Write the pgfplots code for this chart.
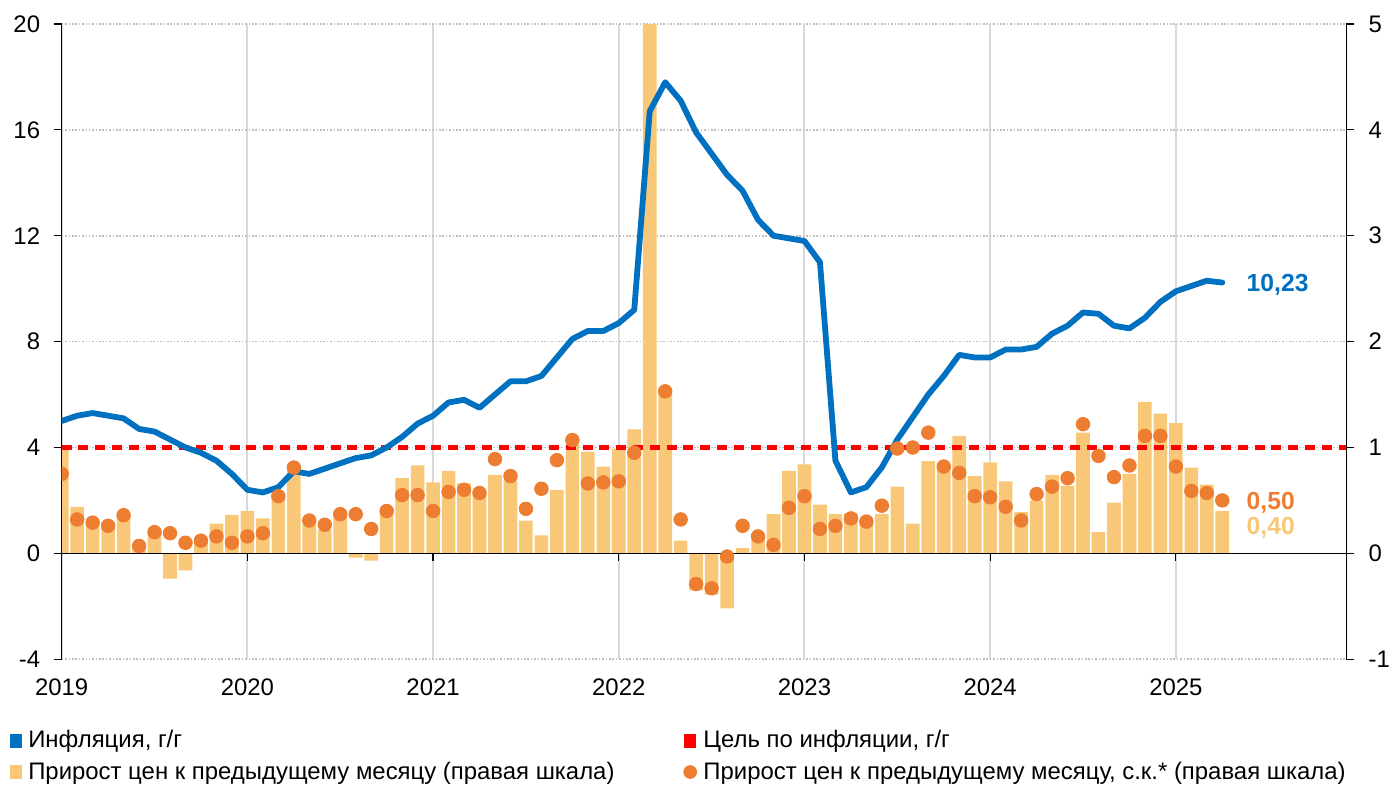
\documentclass[border=0pt]{standalone}
\usepackage{fontspec}
\setmainfont{Liberation Sans}
\usepackage{pgfplots}
\pgfplotsset{compat=1.18}
\usepackage{pgfplotstable}

\definecolor{cblue}{HTML}{0070C0}
\definecolor{cred}{HTML}{FF0000}
\definecolor{cbar}{HTML}{F8C878}
\definecolor{cdot}{HTML}{ED7D31}
\definecolor{cgrid}{HTML}{D9D9D9}
\definecolor{cdotgrid}{HTML}{BFBFBF}

\pgfplotstableread{
m yoy mom sa
0 5.0 1.01 0.75
1 5.2 0.44 0.32
2 5.3 0.32 0.29
3 5.2 0.29 0.26
4 5.1 0.34 0.36
5 4.7 0.04 0.07
6 4.6 0.20 0.20
7 4.3 -0.24 0.19
8 4.0 -0.16 0.10
9 3.8 0.13 0.12
10 3.5 0.28 0.16
11 3.0 0.36 0.10
12 2.4 0.40 0.16
13 2.3 0.33 0.19
14 2.5 0.55 0.54
15 3.1 0.83 0.81
16 3.0 0.27 0.31
17 3.2 0.22 0.27
18 3.4 0.35 0.37
19 3.6 -0.04 0.37
20 3.7 -0.07 0.23
21 4.0 0.43 0.40
22 4.4 0.71 0.55
23 4.9 0.83 0.55
24 5.2 0.67 0.40
25 5.7 0.78 0.58
26 5.8 0.66 0.60
27 5.5 0.58 0.57
28 6.0 0.74 0.89
29 6.5 0.69 0.73
30 6.5 0.31 0.42
31 6.7 0.17 0.61
32 7.4 0.60 0.88
33 8.1 1.03 1.07
34 8.4 0.96 0.66
35 8.4 0.82 0.67
36 8.7 0.99 0.68
37 9.2 1.17 0.95
38 16.7 7.61 nan
39 17.8 1.56 1.53
40 17.1 0.12 0.32
41 15.9 -0.35 -0.29
42 15.1 -0.39 -0.33
43 14.3 -0.52 -0.03
44 13.7 0.05 0.26
45 12.6 0.18 0.16
46 12.0 0.37 0.08
47 11.9 0.78 0.43
48 11.8 0.84 0.54
49 11.0 0.46 0.23
50 3.5 0.37 0.26
51 2.3 0.38 0.33
52 2.5 0.31 0.30
53 3.25 0.37 0.45
54 4.3 0.63 0.99
55 5.15 0.28 1.00
56 6.0 0.87 1.14
57 6.7 0.83 0.82
58 7.5 1.11 0.76
59 7.4 0.73 0.54
60 7.4 0.86 0.53
61 7.7 0.68 0.44
62 7.7 0.39 0.31
63 7.8 0.50 0.56
64 8.3 0.74 0.63
65 8.6 0.64 0.71
66 9.1 1.14 1.22
67 9.05 0.20 0.92
68 8.6 0.48 0.72
69 8.5 0.75 0.83
70 8.9 1.43 1.11
71 9.5 1.32 1.11
72 9.9 1.23 0.82
73 10.1 0.81 0.59
74 10.3 0.65 0.57
75 10.23 0.40 0.50
}\data

\pgfplotsset{
  base/.style={
    at={(0,0)}, anchor=south west, scale only axis,
    width=642.2bp, height=317.6bp,
    xmin=0, xmax=83,
    font=\fontsize{12}{14.4}\selectfont,
    tick label style={font=\fontsize{12}{14.4}\selectfont},
    /pgf/number format/assume math mode=true,
  }
}

\begin{document}
\begin{tikzpicture}
\useasboundingbox (-30.85bp,-62.9bp) rectangle (669.15bp,329.6bp);

% Axis 1: bars on right scale, grids
\begin{axis}[base,
  ymin=-1, ymax=5,
  axis y line*=right, axis x line*=bottom,
  x axis line style={draw=none},
  xtick={0,12,24,36,48,60,72}, xticklabels={},
  xtick style={draw=none},
  xmajorgrids, x grid style={cgrid, line width=1bp},
  ytick={-1,0,1,2,3,4,5}, yticklabels={-1,0,1,2,3,4,5},
  ymajorgrids, y grid style={cdotgrid, line width=0.8bp, dash pattern=on 0.8bp off 0.9bp},
  y axis line style={black, line width=0.6bp},
  ytick style={black, line width=0.6bp},
  tick align=outside, major tick length=3.8bp,
  yticklabel style={anchor=west, xshift=4bp},
]
\addplot[ybar, bar width=0.88, fill=cbar, draw=none, forget plot] table[x=m, y=mom]{\data};
\end{axis}

% Axis 2: left scale, line and target
\begin{axis}[base,
  ymin=-4, ymax=20,
  axis y line*=left, axis x line*=bottom,
  x axis line style={draw=none},
  xtick={0,12,24,36,48,60,72}, xticklabels={2019,2020,2021,2022,2023,2024,2025},
  xtick style={draw=none},
  ytick={-4,0,4,8,12,16,20}, yticklabels={-4,0,4,8,12,16,20},
  y axis line style={black, line width=0.6bp},
  ytick style={black, line width=0.6bp},
  tick align=outside, major tick length=3.8bp,
  yticklabel style={anchor=east, xshift=-3.5bp},
  xticklabel style={anchor=north, yshift=-2.5bp},
  legend columns=2,
  legend cell align=left,
  legend style={at={(0,0)}, anchor=north west, xshift=-26bp, yshift=-33.5bp,
    draw=none, fill=none, inner sep=0pt,
    font=\fontsize{12}{14.4}\selectfont,
    row sep=1.5bp,
    /tikz/every even column/.append style={column sep=32.5bp}},
]
\addplot[cred, line width=2.3bp, dash pattern=on 5bp off 3.4bp, forget plot] coordinates {(0,4) (83,4)};
\addplot[cblue, line width=2.9bp, line join=round, line cap=round, forget plot] table[x=m, y=yoy]{\data};
\draw[black, line width=0.6bp] (axis cs:0,0) -- (axis cs:83,0);
\pgfplotsinvokeforeach{12,24,36,48,60,72}{\draw[black, line width=0.6bp] (axis cs:#1,0) -- ++(0bp,-3.8bp);}
\node[anchor=west, inner sep=0pt, text=cblue, font=\fontsize{12.4}{14}\selectfont\bfseries] at (axis cs:76.55,10.15) {10,23};

\addlegendimage{legend image code/.code={\fill[cblue] (0bp,-3.2bp) rectangle (5.5bp,3.2bp);}}
\addlegendentry{\hspace{1.2bp}Инфляция, г/г}
\addlegendimage{legend image code/.code={\fill[cred] (0bp,-3.2bp) rectangle (5.5bp,3.2bp);}}
\addlegendentry{\hspace{1.2bp}Цель по инфляции, г/г}
\addlegendimage{legend image code/.code={\fill[cbar] (0bp,-3.2bp) rectangle (5.5bp,3.2bp);}}
\addlegendentry{\hspace{1.2bp}Прирост цен к предыдущему месяцу (правая шкала)}
\addlegendimage{legend image code/.code={\fill[cdot] (2.75bp,0bp) circle (3.2bp);}}
\addlegendentry{\hspace{1.2bp}Прирост цен к предыдущему месяцу, с.к.* (правая шкала)}
\end{axis}

% Axis 3: dots on right scale
\begin{axis}[base,
  ymin=-1, ymax=5,
  hide axis,
  clip marker paths=true,
]
\addplot[only marks, mark=*, color=cdot, mark size=3.4bp, forget plot] table[x=m, y=sa]{\data};
\node[anchor=west, inner sep=0pt, text=cdot, font=\fontsize{12.4}{14}\selectfont\bfseries] at (axis cs:76.55,0.48) {0,50};
\node[anchor=west, inner sep=0pt, text=cbar, font=\fontsize{12.4}{14}\selectfont\bfseries] at (axis cs:76.55,0.24) {0,40};
\end{axis}
\end{tikzpicture}
\end{document}
